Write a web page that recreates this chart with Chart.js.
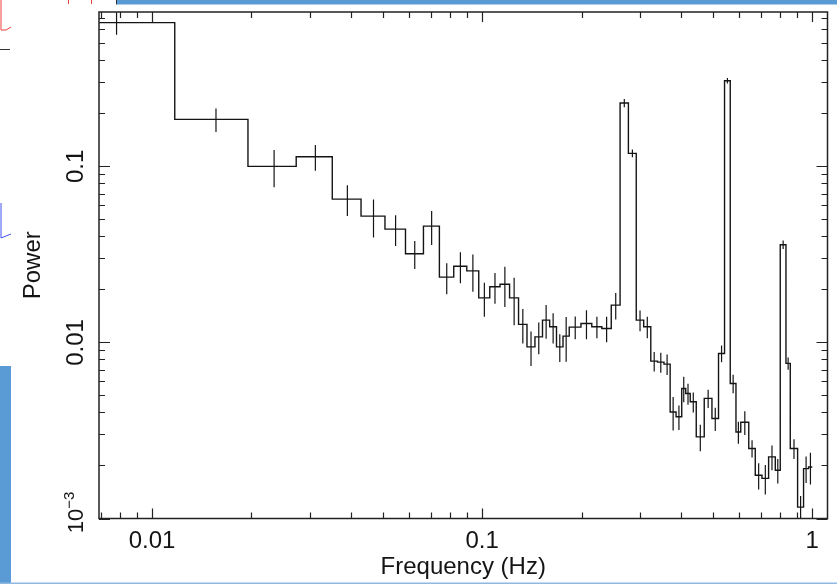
<!DOCTYPE html>
<html>
<head>
<meta charset="utf-8">
<script src="https://cdn.jsdelivr.net/npm/chart.js@4.4.0/dist/chart.umd.min.js"></script>
<style>
  html, body { margin: 0; padding: 0; background: #fff; }
  #wrap { position: relative; width: 837px; height: 584px; }
</style>
</head>
<body>
<div id="wrap"><canvas id="pds"></canvas></div>
<script>
// bin edges (Hz), one more than the number of bins
const freqEdges = [
  0.0039, 0.01172, 0.01953, 0.02734, 0.03516, 0.04297, 0.05078, 0.05859, 0.06641, 0.07422,
  0.08203, 0.08984, 0.09766, 0.10547, 0.11328, 0.12109, 0.12891, 0.13672, 0.14453, 0.15234,
  0.16016, 0.16797, 0.17578, 0.18359, 0.19922, 0.21484, 0.23047, 0.24609, 0.26172, 0.27734,
  0.29297, 0.30859, 0.32422, 0.33984, 0.35547, 0.37109, 0.38672, 0.40234, 0.4137, 0.4269,
  0.4452, 0.4707, 0.4967, 0.5200, 0.5423, 0.5643, 0.5873, 0.6072, 0.6421, 0.6719,
  0.7040, 0.7374, 0.7726, 0.7998, 0.8323, 0.8577, 0.9027, 0.9410, 0.9745, 1.0
];

// power in each bin
const power = [
  0.655, 0.185, 0.100, 0.1134, 0.0652, 0.0522, 0.0440, 0.0319, 0.0458, 0.0235,
  0.0271, 0.0255, 0.0179, 0.0207, 0.0214, 0.0179, 0.01266, 0.00944, 0.01076, 0.01339,
  0.01227, 0.00944, 0.01086, 0.01222, 0.01282, 0.01227, 0.01201, 0.0163, 0.229, 0.1186,
  0.01339, 0.01227, 0.00783, 0.00773, 0.00753, 0.00403, 0.00378, 0.00548, 0.00513, 0.00460,
  0.00291, 0.00481, 0.00370, 0.00866, 0.3064, 0.00585, 0.00310, 0.00352, 0.00250, 0.00176,
  0.00169, 0.00224, 0.00188, 0.0359, 0.0076, 0.00250, 0.00116, 0.00192, 0.00196
];

// 1-sigma error on the power
const powerErr = [
  0.095, 0.028, 0.024, 0.019, 0.013, 0.0127, 0.0087, 0.0058, 0.010, 0.0047,
  0.0054, 0.0061, 0.0039, 0.0041, 0.0055, 0.0054, 0.0028, 0.0021, 0.0022, 0.0029,
  0.0024, 0.0017, 0.0031, 0.0018, 0.0024, 0.0017, 0.0020, 0.0028, 0.012, 0.006,
  0.0018, 0.0017, 0.0010, 0.0010, 0.0010, 0.00087, 0.0006, 0.0009, 0.0007, 0.0006,
  0.0005, 0.00057, 0.00056, 0.00095, 0.011, 0.0007, 0.00044, 0.00054, 0.00028, 0.0003,
  0.00032, 0.00036, 0.0003, 0.002, 0.0006, 0.00032, 0.00018, 0.00033, 0.0004
];

const xTickValues = [0.01, 0.1, 1];
const xTickLabels = ['0.01', '0.1', '1'];
const yTickValues = [0.1, 0.01, 0.001];
const yTickLabels = ['0.1', '0.01', '10^−3'];

const ink = '#141414';
const font = '"Liberation Sans", Arial, Helvetica, sans-serif';

// histogram outline: each bin drawn from its low edge to its high edge
const stepPoints = [];
power.forEach((p, i) => {
  stepPoints.push({ x: freqEdges[i], y: p });
  stepPoints.push({ x: freqEdges[i + 1], y: p });
});

// vertical error bars at bin centres, split by null gaps
const errPoints = [];
power.forEach((p, i) => {
  const c = (freqEdges[i] + freqEdges[i + 1]) / 2;
  errPoints.push({ x: c, y: p - powerErr[i] });
  errPoints.push({ x: c, y: p + powerErr[i] });
  errPoints.push({ x: c, y: null });
});

function logTicks(min, max) {
  const out = [];
  for (let e = Math.floor(Math.log10(min)); e <= Math.ceil(Math.log10(max)); e++) {
    for (let m = 1; m <= 9; m++) {
      const v = m * Math.pow(10, e);
      if (v >= min * 0.999 && v <= max * 1.001) out.push({ v: v, major: m === 1 });
    }
  }
  return out;
}

const framePlugin = {
  id: 'frame',
  beforeDraw(chart) {
    const ctx = chart.ctx;
    ctx.save();
    ctx.fillStyle = '#fff';
    ctx.fillRect(0, 0, chart.width, chart.height);
    // bits of the surrounding slide
    ctx.fillStyle = '#5b9bd5';
    ctx.fillRect(117, 0, chart.width - 117, 4.5);
    ctx.fillRect(0, 366, 11, chart.height - 366);
    ctx.fillStyle = '#8fb8e2';
    ctx.fillRect(0, 582.5, chart.width, 1.5);
    ctx.strokeStyle = '#333';
    ctx.lineWidth = 1;
    ctx.beginPath();
    ctx.moveTo(116.5, 0); ctx.lineTo(116.5, 4.5);
    ctx.moveTo(0, 49.5); ctx.lineTo(10, 49.5);
    ctx.stroke();
    ctx.strokeStyle = '#f04040';
    ctx.beginPath();
    ctx.moveTo(68.5, 0); ctx.lineTo(68.5, 4);
    ctx.moveTo(91.5, 0); ctx.lineTo(91.5, 4);
    ctx.moveTo(1, 0); ctx.lineTo(1, 30); ctx.lineTo(6, 30); ctx.lineTo(11, 27);
    ctx.stroke();
    ctx.strokeStyle = '#4050f0';
    ctx.beginPath();
    ctx.moveTo(1, 203); ctx.lineTo(1, 238); ctx.lineTo(11, 234);
    ctx.stroke();
    ctx.restore();
  },
  afterDraw(chart) {
    const { ctx, chartArea: a, scales: { x, y } } = chart;
    ctx.save();
    ctx.strokeStyle = '#222';
    ctx.lineWidth = 1.5;
    ctx.strokeRect(a.left, a.top, a.right - a.left, a.bottom - a.top);

    ctx.lineWidth = 1.2;
    ctx.beginPath();
    logTicks(x.min, x.max).forEach(t => {
      const px = Math.round(x.getPixelForValue(t.v)) + 0.5;
      const len = t.major ? 10 : 6;
      ctx.moveTo(px, a.bottom); ctx.lineTo(px, a.bottom - len);
      ctx.moveTo(px, a.top); ctx.lineTo(px, a.top + len);
    });
    logTicks(y.min, y.max).forEach(t => {
      const py = Math.round(y.getPixelForValue(t.v)) + 0.5;
      const len = t.major ? 11 : 6;
      ctx.moveTo(a.left, py); ctx.lineTo(a.left + len, py);
      ctx.moveTo(a.right, py); ctx.lineTo(a.right - len, py);
    });
    ctx.stroke();

    ctx.fillStyle = ink;
    ctx.font = '24px ' + font;
    ctx.textAlign = 'center';
    ctx.textBaseline = 'alphabetic';
    xTickValues.forEach((v, i) => {
      ctx.fillText(xTickLabels[i], x.getPixelForValue(v), 548);
    });
    ctx.fillText('Frequency (Hz)', (a.left + a.right) / 2, 574);

    yTickValues.forEach((v, i) => {
      const py = y.getPixelForValue(v);
      const label = yTickLabels[i];
      ctx.save();
      ctx.translate(83, py);
      ctx.rotate(-Math.PI / 2);
      if (label.indexOf('^') >= 0) {
        const [base, exp] = label.split('^');
        ctx.font = '22px ' + font;
        const wb = ctx.measureText(base).width;
        ctx.font = '15px ' + font;
        const we = ctx.measureText(exp).width;
        const start = 6 - (wb + we) / 2;
        ctx.textAlign = 'left';
        ctx.font = '22px ' + font;
        ctx.fillText(base, start, 0);
        ctx.font = '15px ' + font;
        ctx.fillText(exp, start + wb, -9);
      } else {
        ctx.fillText(label, 0, 0);
      }
      ctx.restore();
    });

    ctx.save();
    ctx.font = '24px ' + font;
    ctx.textAlign = 'center';
    ctx.translate(40, (a.top + a.bottom) / 2);
    ctx.rotate(-Math.PI / 2);
    ctx.fillText('Power', 0, 0);
    ctx.restore();
    ctx.restore();
  }
};

new Chart(document.getElementById('pds').getContext('2d'), {
  type: 'line',
  data: {
    datasets: [{
      label: 'power',
      data: stepPoints,
      borderColor: ink,
      borderWidth: 1.4,
      pointRadius: 0,
      tension: 0,
      fill: false
    }, {
      label: 'error',
      data: errPoints,
      borderColor: ink,
      borderWidth: 1.2,
      pointRadius: 0,
      spanGaps: false,
      fill: false
    }]
  },
  options: {
    responsive: true,
    maintainAspectRatio: false,
    animation: false,
    layout: { padding: { left: 99, top: 12, right: 9.5, bottom: 65.5 } },
    plugins: {
      legend: { display: false },
      tooltip: { enabled: false }
    },
    scales: {
      x: { type: 'logarithmic', min: 0.00691, max: 1.112, display: false },
      y: { type: 'logarithmic', min: 0.001, max: 0.753, display: false }
    }
  },
  plugins: [framePlugin]
});
</script>
</body>
</html>
